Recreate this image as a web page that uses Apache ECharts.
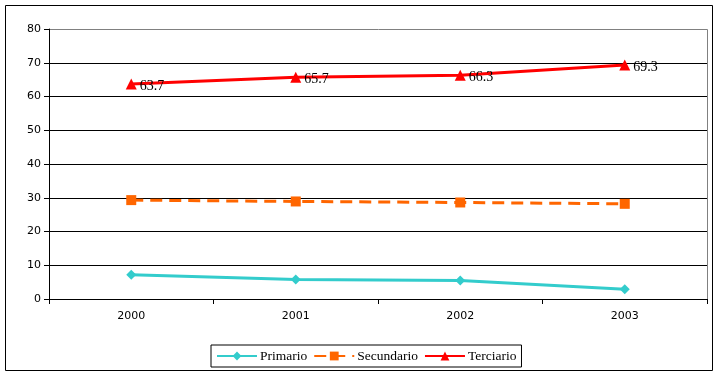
<!DOCTYPE html>
<html><head><meta charset="utf-8">
<script src="https://cdn.jsdelivr.net/npm/echarts@6/dist/echarts.min.js"></script>
<style>html,body{margin:0;padding:0;background:#fff}#c{width:718px;height:376px}</style>
</head><body><div id="c"></div>
<script>
const categories = ['2000','2001','2002','2003'];
const primario = [7.2, 5.8, 5.5, 2.9];
const secundario = [29.3, 28.9, 28.6, 28.2];
const terciario = [63.7, 65.7, 66.3, 69.3];
const yTicks = [0, 80, 10];

const chart = echarts.init(document.getElementById('c'), null, {renderer:'canvas'});
const serif = '"Liberation Serif", "DejaVu Serif", serif';
const sans = 'Verdana, "DejaVu Sans", sans-serif';
chart.setOption({
  animation:false,
  backgroundColor:'#fff',
  graphic:[{type:'rect', shape:{x:5.5,y:5.5,width:707,height:365}, style:{fill:'none',stroke:'#000',lineWidth:1}, silent:true, z:-1},
           {type:'rect', shape:{x:49.5,y:29.5,width:658,height:270}, style:{fill:'none',stroke:'#808080',lineWidth:1}, silent:true, z:-1}],
  grid:{left:49, right:11, top:29, bottom:77, show:false},
  xAxis:{type:'category', data:categories, boundaryGap:true,
    axisLine:{lineStyle:{color:'#000',width:1}},
    axisTick:{show:true, length:5, lineStyle:{color:'#000'}},
    axisLabel:{color:'#000', fontFamily:sans, fontSize:11, margin:12}},
  yAxis:{type:'value', min:yTicks[0], max:yTicks[1], interval:yTicks[2],
    axisLine:{show:true, lineStyle:{color:'#000'}},
    axisTick:{show:true, length:5, lineStyle:{color:'#000'}},
    axisLabel:{color:'#000', fontFamily:sans, fontSize:11, margin:8},
    splitLine:{showMaxLine:false, lineStyle:{color:'#000', width:1}}},
  legend:{top:345, left:211, itemWidth:40, itemHeight:11, itemGap:6,
    borderColor:'#000', borderWidth:1, padding:[4,5,4,5],
    textStyle:{fontFamily:serif, fontSize:13.5, color:'#000', padding:[0,0,0,-2]},
    data:['Primario','Secundario','Terciario']},
  series:[
    {name:'Primario', type:'line', data:primario, symbol:'diamond', symbolSize:10,
      itemStyle:{color:'#33CCCC'}, lineStyle:{color:'#33CCCC', width:3}},
    {name:'Secundario', type:'line', data:secundario, symbol:'rect', symbolSize:10,
      itemStyle:{color:'#FF6600'}, lineStyle:{color:'#FF6600', width:3, type:[12,7]}},
    {name:'Terciario', type:'line', data:terciario, symbol:'triangle', symbolSize:11,
      itemStyle:{color:'#FF0000'}, lineStyle:{color:'#FF0000', width:3},
      label:{show:true, position:'right', distance:3, offset:[0,2], color:'#000', fontFamily:serif, fontSize:14}}
  ]
});
</script></body></html>
